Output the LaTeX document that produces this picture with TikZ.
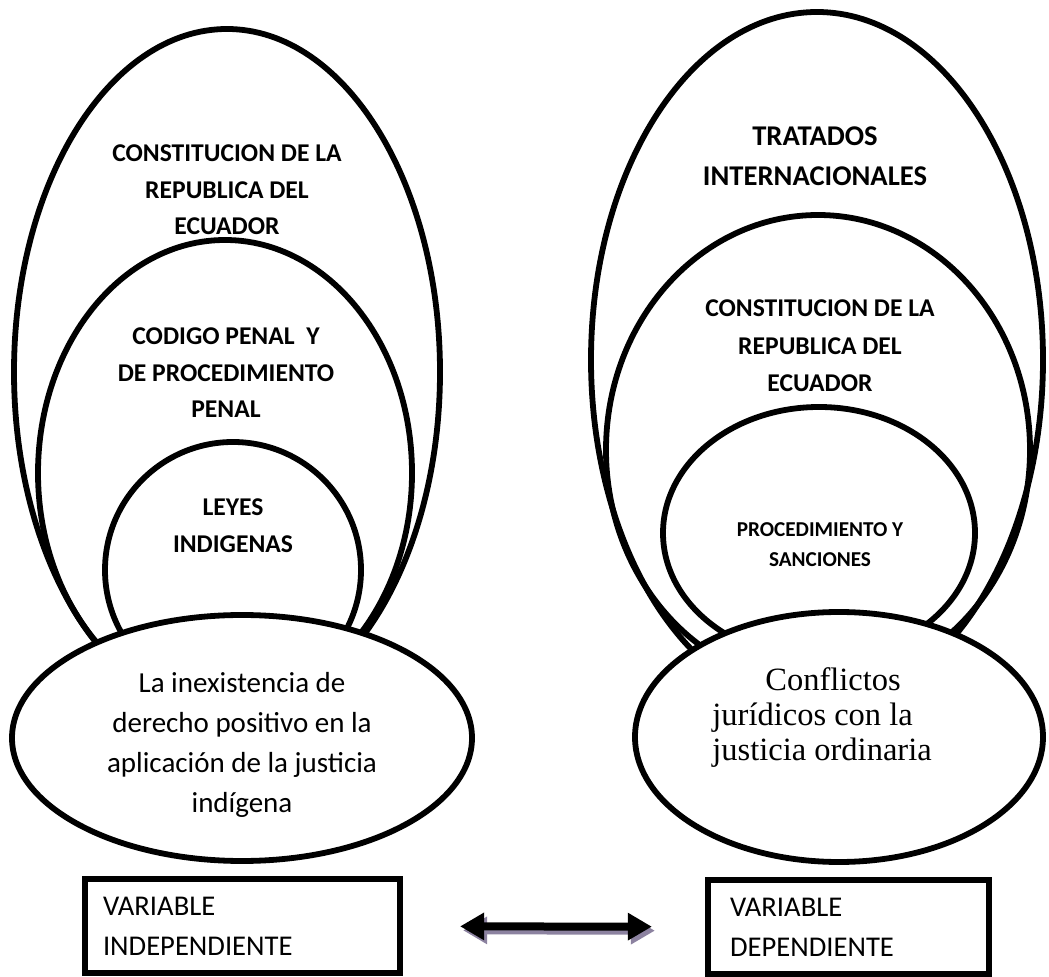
\documentclass[tikz,border=0pt]{standalone}
\usepackage{fontspec}
\setmainfont{Carlito}
\newfontfamily\timesfont{Liberation Serif}
\usetikzlibrary{shapes.geometric, arrows.meta}
\definecolor{shadowgrey}{RGB}{140,130,160}

\begin{document}
\begin{tikzpicture}[x=0.5pt, y=-0.5pt,
    oval/.style={ellipse, draw, line width=2.9pt, inner sep=0pt},
    capslabel/.style={align=center, inner sep=0pt, font=\fontsize{12.8}{18.25}\selectfont\bfseries},
    varbox/.style={draw, line width=2.9pt, minimum height=47pt, align=left, font=\fontsize{14.3}{20}\selectfont},
    dblarrow/.style={{Triangle[width=13pt,length=12pt]}-{Triangle[width=13pt,length=12pt]}, line width=4pt, shorten <=28.5pt, shorten >=26.5pt}]
                        \useasboundingbox (0,0) rectangle (1049,977);
                        % left group
                        \node[oval, minimum width=213pt, minimum height=343pt] (lo) at (227, 372) {};
                        \node[oval, minimum width=187pt, minimum height=233pt] (lm) at (225, 473) {};
                        \node[oval, minimum width=128pt, minimum height=128pt] (li) at (233, 570) {};
                        \node[oval, fill=white, minimum width=230pt, minimum height=123pt] (lb) at (242, 738) {};
                        % right group
                        \node[oval, minimum width=226pt, minimum height=348pt] (ro) at (817, 360) {};
                        \node[oval, minimum width=212pt, minimum height=235pt] (rm) at (818, 450) {};
                        \node[oval, minimum width=156pt, minimum height=126pt] (ri) at (819, 533) {};
                        \node[oval, fill=white, minimum width=204pt, minimum height=125pt] (rb) at (839, 737) {};
                        % labels
                        \node[capslabel] (tlo) at (227, 190) {CONSTITUCION DE LA\\REPUBLICA DEL\\ECUADOR};
                        \node[capslabel] (tlm) at (226, 373) {CODIGO PENAL\ \ Y\\DE PROCEDIMIENTO\\PENAL};
                        \node[capslabel, font=\fontsize{12.8}{18.5}\selectfont\bfseries] (tli) at (233, 526) {LEYES\\INDIGENAS};
                        \node[capslabel, font=\fontsize{14.3}{20}\selectfont\bfseries] (tro) at (815, 156) {TRATADOS\\INTERNACIONALES};
                        \node[capslabel, font=\fontsize{12.8}{18.75}\selectfont\bfseries] (trm) at (820, 346) {CONSTITUCION DE LA\\REPUBLICA DEL\\ECUADOR};
                        \node[capslabel, font=\fontsize{10.6}{15}\selectfont\bfseries] (tri) at (820, 545) {PROCEDIMIENTO Y\\SANCIONES};
                        \node[align=center, inner sep=0pt, font=\fontsize{14.5}{20}\selectfont] (tlb) at (242, 745) {La inexistencia de\\derecho positivo en la\\aplicación de la justicia\\indígena};
                        \node[align=left, inner sep=0pt, anchor=west, font=\timesfont\fontsize{16.25}{17.5}\selectfont] (trb) at (712, 718) {\hspace*{26.5pt}Conflictos\\jurídicos con la\\justicia ordinaria};
                        % variables
                        \node[varbox, inner xsep=9.1pt, text width=139.5pt] (vi) at (242.5, 926) {VARIABLE\\INDEPENDIENTE};
                        \node[varbox, inner xsep=11.1pt, text width=118.5pt] (vd) at (848.5, 927) {VARIABLE\\DEPENDIENTE};
                        \draw[dblarrow, shadowgrey, transform canvas={shift={(3,4)}}] (vi) -- (vd);
                        \draw[dblarrow] (vi) -- (vd);
                    \end{tikzpicture}
\end{document}
